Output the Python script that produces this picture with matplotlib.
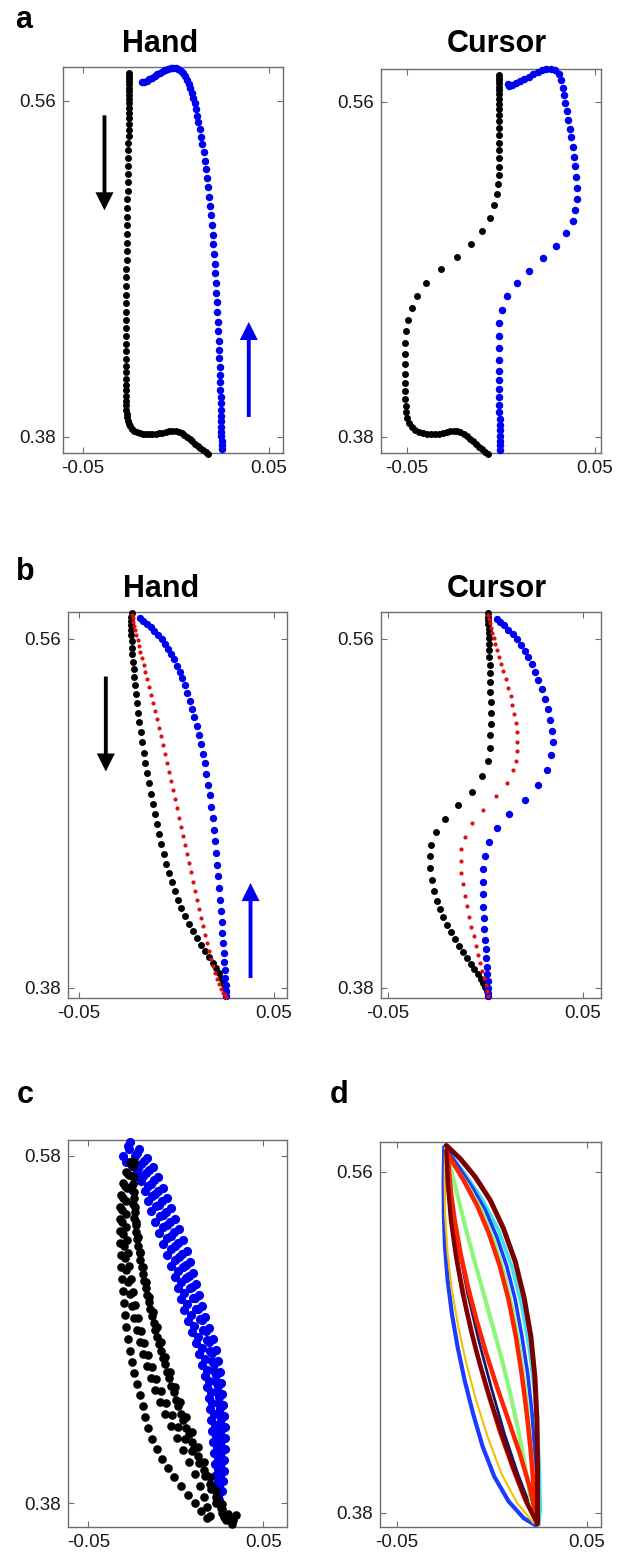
import numpy as np
import matplotlib
matplotlib.use("Agg")
import matplotlib.pyplot as plt

plt.rcParams['font.family'] = ['Liberation Sans', 'DejaVu Sans']

# ------------------------------------------------------------------ data
XTICKS = [-0.05, 0.05]
XTICK_LABELS = ['-0.05', '0.05']
YTICKS_AB = [0.38, 0.56]
YTICK_LABELS_AB = ['0.38', '0.56']
YTICKS_C = [0.38, 0.58]
YTICK_LABELS_C = ['0.38', '0.58']

PANEL_LETTERS = ['a', 'b', 'c', 'd']
TITLES = ['Hand', 'Cursor']

# panel a, hand: outward (black, downward) and return (blue, upward) movement
A_HAND_BLACK = [
    (-0.0251, 0.5750), (-0.0251, 0.5736), (-0.0251, 0.5721), (-0.0251, 0.5705), (-0.0251, 0.5689),
    (-0.0251, 0.5671), (-0.0251, 0.5654), (-0.0251, 0.5634), (-0.0251, 0.5613), (-0.0251, 0.5589),
    (-0.0251, 0.5564), (-0.0251, 0.5538), (-0.0253, 0.5509), (-0.0253, 0.5479), (-0.0254, 0.5446),
    (-0.0254, 0.5413), (-0.0256, 0.5375), (-0.0256, 0.5336), (-0.0258, 0.5295), (-0.0258, 0.5252),
    (-0.0260, 0.5209), (-0.0260, 0.5164), (-0.0260, 0.5120), (-0.0262, 0.5073), (-0.0262, 0.5027),
    (-0.0262, 0.4980), (-0.0263, 0.4934), (-0.0263, 0.4888), (-0.0265, 0.4841), (-0.0265, 0.4795),
    (-0.0265, 0.4748), (-0.0267, 0.4702), (-0.0267, 0.4655), (-0.0267, 0.4609), (-0.0269, 0.4563),
    (-0.0269, 0.4516), (-0.0269, 0.4471), (-0.0271, 0.4427), (-0.0271, 0.4384), (-0.0271, 0.4341),
    (-0.0271, 0.4300), (-0.0271, 0.4259), (-0.0271, 0.4220), (-0.0271, 0.4182), (-0.0271, 0.4146),
    (-0.0271, 0.4113), (-0.0271, 0.4080), (-0.0271, 0.4050), (-0.0271, 0.4021), (-0.0271, 0.3995),
    (-0.0269, 0.3970), (-0.0267, 0.3946), (-0.0265, 0.3925), (-0.0262, 0.3905), (-0.0258, 0.3888),
    (-0.0253, 0.3871), (-0.0246, 0.3857), (-0.0237, 0.3845), (-0.0224, 0.3834), (-0.0210, 0.3827),
    (-0.0195, 0.3821), (-0.0179, 0.3818), (-0.0163, 0.3816), (-0.0145, 0.3814), (-0.0127, 0.3814),
    (-0.0109, 0.3816), (-0.0091, 0.3820), (-0.0073, 0.3823), (-0.0056, 0.3827), (-0.0038, 0.3830),
    (-0.0020, 0.3832), (-0.0002, 0.3832), (0.0014, 0.3829), (0.0030, 0.3821), (0.0045, 0.3812),
    (0.0059, 0.3802), (0.0073, 0.3789), (0.0088, 0.3777), (0.0102, 0.3764), (0.0116, 0.3752),
    (0.0131, 0.3739), (0.0145, 0.3729), (0.0159, 0.3720), (0.0174, 0.3711)]

A_HAND_BLUE = [
    (0.0246, 0.3738), (0.0246, 0.3759), (0.0246, 0.3780), (0.0244, 0.3804), (0.0244, 0.3829),
    (0.0244, 0.3855), (0.0242, 0.3884), (0.0242, 0.3914), (0.0242, 0.3946), (0.0240, 0.3980),
    (0.0240, 0.4016), (0.0238, 0.4054), (0.0238, 0.4093), (0.0237, 0.4134), (0.0235, 0.4177),
    (0.0233, 0.4221), (0.0231, 0.4268), (0.0229, 0.4316), (0.0228, 0.4366), (0.0224, 0.4418),
    (0.0222, 0.4470), (0.0219, 0.4521), (0.0217, 0.4573), (0.0213, 0.4625), (0.0211, 0.4677),
    (0.0208, 0.4729), (0.0204, 0.4780), (0.0201, 0.4832), (0.0197, 0.4884), (0.0194, 0.4936),
    (0.0188, 0.4988), (0.0185, 0.5038), (0.0179, 0.5088), (0.0174, 0.5138), (0.0168, 0.5186),
    (0.0161, 0.5234), (0.0156, 0.5280), (0.0149, 0.5325), (0.0142, 0.5368), (0.0134, 0.5409),
    (0.0127, 0.5448), (0.0120, 0.5486), (0.0113, 0.5521), (0.0106, 0.5555), (0.0100, 0.5588),
    (0.0093, 0.5618), (0.0086, 0.5645), (0.0077, 0.5670), (0.0068, 0.5693), (0.0059, 0.5714),
    (0.0048, 0.5732), (0.0038, 0.5748), (0.0025, 0.5761), (0.0013, 0.5770), (0.0000, 0.5775),
    (-0.0014, 0.5777), (-0.0029, 0.5775), (-0.0043, 0.5771), (-0.0057, 0.5766), (-0.0072, 0.5759),
    (-0.0086, 0.5752), (-0.0100, 0.5743), (-0.0115, 0.5734), (-0.0129, 0.5725), (-0.0143, 0.5716),
    (-0.0158, 0.5709), (-0.0172, 0.5704), (-0.0185, 0.5702)]

# panel a, cursor
A_CURSOR_BLACK = [
    (-0.0010, 0.5743), (-0.0010, 0.5730), (-0.0010, 0.5716), (-0.0008, 0.5700), (-0.0008, 0.5682),
    (-0.0008, 0.5663), (-0.0008, 0.5641), (-0.0008, 0.5616), (-0.0008, 0.5589), (-0.0008, 0.5561),
    (-0.0008, 0.5528), (-0.0008, 0.5495), (-0.0008, 0.5459), (-0.0008, 0.5421), (-0.0008, 0.5382),
    (-0.0008, 0.5341), (-0.0010, 0.5298), (-0.0010, 0.5253), (-0.0012, 0.5207), (-0.0015, 0.5158),
    (-0.0020, 0.5108), (-0.0035, 0.5046), (-0.0060, 0.4978), (-0.0099, 0.4908), (-0.0157, 0.4837),
    (-0.0234, 0.4765), (-0.0319, 0.4701), (-0.0397, 0.4629), (-0.0445, 0.4560), (-0.0473, 0.4492),
    (-0.0495, 0.4429), (-0.0505, 0.4367), (-0.0509, 0.4304), (-0.0511, 0.4245), (-0.0511, 0.4190),
    (-0.0511, 0.4138), (-0.0511, 0.4089), (-0.0511, 0.4045), (-0.0509, 0.4004), (-0.0507, 0.3966),
    (-0.0504, 0.3932), (-0.0498, 0.3902), (-0.0489, 0.3875), (-0.0475, 0.3853), (-0.0457, 0.3837),
    (-0.0438, 0.3827), (-0.0417, 0.3821), (-0.0395, 0.3818), (-0.0374, 0.3816), (-0.0353, 0.3816),
    (-0.0331, 0.3818), (-0.0310, 0.3821), (-0.0289, 0.3827), (-0.0269, 0.3832), (-0.0251, 0.3834),
    (-0.0234, 0.3832), (-0.0216, 0.3827), (-0.0198, 0.3818), (-0.0180, 0.3805), (-0.0164, 0.3791),
    (-0.0148, 0.3777), (-0.0132, 0.3762), (-0.0116, 0.3748), (-0.0100, 0.3734), (-0.0084, 0.3721),
    (-0.0068, 0.3710)]

A_CURSOR_BLUE = [
    (-0.0006, 0.3732), (-0.0006, 0.3755), (-0.0006, 0.3780), (-0.0006, 0.3807), (-0.0006, 0.3836),
    (-0.0006, 0.3866), (-0.0006, 0.3898), (-0.0008, 0.3934), (-0.0008, 0.3973), (-0.0008, 0.4014),
    (-0.0010, 0.4057), (-0.0010, 0.4104), (-0.0012, 0.4156), (-0.0012, 0.4215), (-0.0012, 0.4277),
    (-0.0012, 0.4343), (-0.0010, 0.4415), (0.0003, 0.4483), (0.0033, 0.4558), (0.0083, 0.4626),
    (0.0147, 0.4694), (0.0221, 0.4760), (0.0292, 0.4826), (0.0345, 0.4894), (0.0381, 0.4960),
    (0.0395, 0.5019), (0.0402, 0.5076), (0.0402, 0.5135), (0.0401, 0.5198), (0.0395, 0.5255),
    (0.0388, 0.5305), (0.0381, 0.5359), (0.0374, 0.5409), (0.0367, 0.5457), (0.0358, 0.5505),
    (0.0349, 0.5552), (0.0342, 0.5595), (0.0337, 0.5636), (0.0329, 0.5677), (0.0321, 0.5716),
    (0.0306, 0.5748), (0.0289, 0.5770), (0.0264, 0.5779), (0.0242, 0.5779), (0.0219, 0.5772),
    (0.0196, 0.5761), (0.0171, 0.5748), (0.0148, 0.5736), (0.0125, 0.5723), (0.0102, 0.5711),
    (0.0079, 0.5700), (0.0060, 0.5691), (0.0045, 0.5688), (0.0040, 0.5698)]

# panel b, hand: outward (black), return (blue), mean (red)
B_HAND_BLACK = [
    (-0.0230, 0.5732), (-0.0232, 0.5715), (-0.0233, 0.5694), (-0.0233, 0.5672), (-0.0233, 0.5646),
    (-0.0232, 0.5619), (-0.0230, 0.5588), (-0.0228, 0.5555), (-0.0226, 0.5521), (-0.0223, 0.5483),
    (-0.0220, 0.5444), (-0.0216, 0.5402), (-0.0213, 0.5360), (-0.0208, 0.5315), (-0.0203, 0.5268),
    (-0.0197, 0.5220), (-0.0191, 0.5171), (-0.0184, 0.5119), (-0.0177, 0.5068), (-0.0168, 0.5014),
    (-0.0160, 0.4961), (-0.0151, 0.4908), (-0.0141, 0.4855), (-0.0132, 0.4801), (-0.0122, 0.4748),
    (-0.0112, 0.4695), (-0.0102, 0.4643), (-0.0090, 0.4592), (-0.0078, 0.4540), (-0.0066, 0.4490),
    (-0.0052, 0.4441), (-0.0038, 0.4393), (-0.0023, 0.4344), (-0.0008, 0.4298), (0.0009, 0.4253),
    (0.0026, 0.4210), (0.0045, 0.4169), (0.0064, 0.4130), (0.0085, 0.4092), (0.0105, 0.4056),
    (0.0126, 0.4022), (0.0146, 0.3989), (0.0167, 0.3958), (0.0185, 0.3929), (0.0203, 0.3901),
    (0.0218, 0.3876), (0.0230, 0.3851), (0.0240, 0.3827), (0.0247, 0.3805), (0.0252, 0.3783),
    (0.0254, 0.3760)]

B_HAND_BLUE = [
    (-0.0187, 0.5706), (-0.0170, 0.5694), (-0.0151, 0.5679), (-0.0132, 0.5662), (-0.0114, 0.5643),
    (-0.0095, 0.5622), (-0.0076, 0.5600), (-0.0059, 0.5576), (-0.0042, 0.5550), (-0.0026, 0.5523),
    (-0.0011, 0.5494), (0.0003, 0.5463), (0.0016, 0.5430), (0.0030, 0.5396), (0.0044, 0.5360),
    (0.0056, 0.5322), (0.0068, 0.5282), (0.0079, 0.5241), (0.0091, 0.5198), (0.0103, 0.5153),
    (0.0114, 0.5107), (0.0124, 0.5059), (0.0134, 0.5009), (0.0144, 0.4958), (0.0153, 0.4904),
    (0.0162, 0.4849), (0.0170, 0.4793), (0.0179, 0.4734), (0.0185, 0.4676), (0.0192, 0.4616),
    (0.0199, 0.4556), (0.0204, 0.4496), (0.0209, 0.4435), (0.0215, 0.4375), (0.0220, 0.4315),
    (0.0225, 0.4255), (0.0228, 0.4197), (0.0232, 0.4140), (0.0235, 0.4085), (0.0238, 0.4032),
    (0.0242, 0.3982), (0.0245, 0.3936), (0.0249, 0.3893), (0.0250, 0.3853), (0.0252, 0.3817),
    (0.0254, 0.3786), (0.0254, 0.3760)]

B_HAND_RED = [
    (-0.0228, 0.5724), (-0.0225, 0.5706), (-0.0221, 0.5688), (-0.0216, 0.5667), (-0.0211, 0.5645),
    (-0.0206, 0.5621), (-0.0199, 0.5595), (-0.0192, 0.5566), (-0.0185, 0.5535), (-0.0177, 0.5502),
    (-0.0168, 0.5468), (-0.0160, 0.5432), (-0.0151, 0.5394), (-0.0141, 0.5354), (-0.0132, 0.5313),
    (-0.0122, 0.5272), (-0.0112, 0.5229), (-0.0102, 0.5186), (-0.0091, 0.5141), (-0.0081, 0.5097),
    (-0.0071, 0.5052), (-0.0061, 0.5006), (-0.0050, 0.4959), (-0.0040, 0.4913), (-0.0030, 0.4867),
    (-0.0020, 0.4820), (-0.0009, 0.4774), (0.0001, 0.4726), (0.0011, 0.4679), (0.0021, 0.4631),
    (0.0032, 0.4585), (0.0042, 0.4537), (0.0052, 0.4490), (0.0062, 0.4442), (0.0073, 0.4396),
    (0.0083, 0.4348), (0.0093, 0.4301), (0.0103, 0.4255), (0.0114, 0.4209), (0.0124, 0.4162),
    (0.0134, 0.4118), (0.0144, 0.4073), (0.0155, 0.4030), (0.0165, 0.3989), (0.0175, 0.3949),
    (0.0185, 0.3912), (0.0196, 0.3877), (0.0206, 0.3846), (0.0216, 0.3819), (0.0226, 0.3795),
    (0.0237, 0.3776), (0.0247, 0.3762), (0.0254, 0.3754)]

# panel b, cursor
B_CURSOR_BLACK = [
    (0.0015, 0.5732), (0.0015, 0.5715), (0.0015, 0.5696), (0.0015, 0.5676), (0.0016, 0.5653),
    (0.0016, 0.5629), (0.0018, 0.5603), (0.0018, 0.5574), (0.0020, 0.5542), (0.0020, 0.5506),
    (0.0021, 0.5466), (0.0023, 0.5423), (0.0025, 0.5377), (0.0025, 0.5327), (0.0027, 0.5274),
    (0.0027, 0.5217), (0.0027, 0.5160), (0.0025, 0.5102), (0.0023, 0.5040), (0.0013, 0.4973),
    (-0.0018, 0.4891), (-0.0071, 0.4813), (-0.0142, 0.4741), (-0.0210, 0.4673), (-0.0256, 0.4604),
    (-0.0279, 0.4539), (-0.0286, 0.4478), (-0.0284, 0.4418), (-0.0277, 0.4358), (-0.0265, 0.4301),
    (-0.0250, 0.4250), (-0.0234, 0.4207), (-0.0217, 0.4166), (-0.0198, 0.4126), (-0.0179, 0.4089),
    (-0.0159, 0.4052), (-0.0138, 0.4018), (-0.0118, 0.3985), (-0.0097, 0.3955), (-0.0076, 0.3925),
    (-0.0057, 0.3898), (-0.0040, 0.3872), (-0.0025, 0.3848), (-0.0011, 0.3826), (-0.0001, 0.3805),
    (0.0008, 0.3785), (0.0015, 0.3760)]

B_CURSOR_BLUE = [
    (0.0057, 0.5703), (0.0075, 0.5689), (0.0095, 0.5670), (0.0117, 0.5648), (0.0140, 0.5624),
    (0.0160, 0.5598), (0.0181, 0.5569), (0.0200, 0.5538), (0.0219, 0.5506), (0.0236, 0.5469),
    (0.0253, 0.5430), (0.0270, 0.5387), (0.0287, 0.5341), (0.0304, 0.5291), (0.0320, 0.5238),
    (0.0332, 0.5183), (0.0340, 0.5126), (0.0344, 0.5066), (0.0337, 0.4999), (0.0315, 0.4925),
    (0.0270, 0.4848), (0.0203, 0.4770), (0.0121, 0.4697), (0.0061, 0.4624), (0.0020, 0.4551),
    (-0.0003, 0.4482), (-0.0013, 0.4415), (-0.0015, 0.4348), (-0.0015, 0.4283), (-0.0013, 0.4219),
    (-0.0009, 0.4159), (-0.0006, 0.4102), (-0.0003, 0.4049), (0.0001, 0.3999), (0.0004, 0.3953),
    (0.0008, 0.3910), (0.0009, 0.3870), (0.0011, 0.3834), (0.0013, 0.3802), (0.0015, 0.3774),
    (0.0015, 0.3757)]

B_CURSOR_RED = [
    (0.0015, 0.5724), (0.0018, 0.5703), (0.0023, 0.5681), (0.0028, 0.5657), (0.0035, 0.5631),
    (0.0042, 0.5603), (0.0051, 0.5574), (0.0059, 0.5543), (0.0069, 0.5509), (0.0080, 0.5473),
    (0.0092, 0.5433), (0.0104, 0.5392), (0.0116, 0.5349), (0.0128, 0.5305), (0.0138, 0.5260),
    (0.0147, 0.5214), (0.0154, 0.5167), (0.0159, 0.5119), (0.0160, 0.5071), (0.0160, 0.5023),
    (0.0155, 0.4973), (0.0143, 0.4922), (0.0112, 0.4856), (0.0054, 0.4788), (-0.0011, 0.4719),
    (-0.0069, 0.4650), (-0.0107, 0.4581), (-0.0124, 0.4516), (-0.0128, 0.4453), (-0.0124, 0.4393),
    (-0.0118, 0.4334), (-0.0107, 0.4276), (-0.0097, 0.4221), (-0.0085, 0.4168), (-0.0073, 0.4116),
    (-0.0061, 0.4066), (-0.0049, 0.4018), (-0.0037, 0.3972), (-0.0027, 0.3929), (-0.0016, 0.3888),
    (-0.0008, 0.3850), (0.0001, 0.3815), (0.0008, 0.3786), (0.0015, 0.3760)]

# panel c: several trials, outward (black) and return (blue)
C_BLACK_1 = [
    (-0.0262, 0.5766), (-0.0285, 0.5708), (-0.0302, 0.5645), (-0.0313, 0.5575), (-0.0319, 0.5506),
    (-0.0319, 0.5437), (-0.0319, 0.5368), (-0.0319, 0.5299), (-0.0313, 0.5230), (-0.0313, 0.5161),
    (-0.0307, 0.5092), (-0.0302, 0.5023), (-0.0296, 0.4954), (-0.0290, 0.4885), (-0.0285, 0.4815),
    (-0.0273, 0.4746), (-0.0262, 0.4677), (-0.0250, 0.4614), (-0.0239, 0.4551), (-0.0222, 0.4487),
    (-0.0205, 0.4424), (-0.0187, 0.4361), (-0.0176, 0.4297), (-0.0159, 0.4234), (-0.0136, 0.4170),
    (-0.0107, 0.4113), (-0.0079, 0.4055), (-0.0045, 0.4003), (-0.0010, 0.3952), (0.0030, 0.3900),
    (0.0070, 0.3848), (0.0110, 0.3802), (0.0144, 0.3756), (0.0178, 0.3716)]
C_BLACK_2 = [
    (-0.0250, 0.5766), (-0.0267, 0.5691), (-0.0279, 0.5616), (-0.0285, 0.5541), (-0.0285, 0.5466),
    (-0.0285, 0.5391), (-0.0279, 0.5316), (-0.0273, 0.5242), (-0.0267, 0.5167), (-0.0256, 0.5092),
    (-0.0245, 0.5017), (-0.0233, 0.4942), (-0.0216, 0.4867), (-0.0199, 0.4792), (-0.0182, 0.4723),
    (-0.0159, 0.4654), (-0.0136, 0.4585), (-0.0113, 0.4516), (-0.0085, 0.4447), (-0.0056, 0.4378),
    (-0.0022, 0.4309), (0.0013, 0.4240), (0.0053, 0.4170), (0.0093, 0.4101), (0.0133, 0.4032),
    (0.0173, 0.3963), (0.0207, 0.3894), (0.0235, 0.3831), (0.0258, 0.3773), (0.0275, 0.3721)]
C_BLACK_3 = [
    (-0.0245, 0.5766), (-0.0250, 0.5685), (-0.0250, 0.5604), (-0.0245, 0.5524), (-0.0239, 0.5443),
    (-0.0227, 0.5362), (-0.0216, 0.5282), (-0.0205, 0.5201), (-0.0187, 0.5121), (-0.0170, 0.5040),
    (-0.0153, 0.4959), (-0.0136, 0.4879), (-0.0119, 0.4798), (-0.0096, 0.4718), (-0.0073, 0.4637),
    (-0.0050, 0.4556), (-0.0027, 0.4476), (0.0001, 0.4395), (0.0030, 0.4315), (0.0058, 0.4234),
    (0.0093, 0.4153), (0.0127, 0.4073), (0.0161, 0.3992), (0.0195, 0.3911), (0.0230, 0.3836),
    (0.0264, 0.3767), (0.0298, 0.3710), (0.0321, 0.3681)]
C_BLACK_4 = [
    (-0.0239, 0.5766), (-0.0239, 0.5679), (-0.0239, 0.5593), (-0.0233, 0.5506), (-0.0227, 0.5420),
    (-0.0216, 0.5334), (-0.0205, 0.5247), (-0.0187, 0.5161), (-0.0170, 0.5075), (-0.0153, 0.4988),
    (-0.0130, 0.4902), (-0.0107, 0.4815), (-0.0085, 0.4729), (-0.0062, 0.4643), (-0.0033, 0.4556),
    (-0.0005, 0.4470), (0.0024, 0.4384), (0.0058, 0.4297), (0.0093, 0.4211), (0.0127, 0.4124),
    (0.0161, 0.4038), (0.0195, 0.3952), (0.0230, 0.3871), (0.0264, 0.3796), (0.0298, 0.3739),
    (0.0327, 0.3704), (0.0344, 0.3733)]
C_BLACK_5 = [
    (-0.0256, 0.5766), (-0.0273, 0.5696), (-0.0290, 0.5627), (-0.0302, 0.5558), (-0.0307, 0.5489),
    (-0.0307, 0.5420), (-0.0302, 0.5351), (-0.0296, 0.5282), (-0.0290, 0.5213), (-0.0285, 0.5144),
    (-0.0273, 0.5075), (-0.0262, 0.5005), (-0.0250, 0.4936), (-0.0239, 0.4867), (-0.0222, 0.4798),
    (-0.0205, 0.4729), (-0.0187, 0.4660), (-0.0165, 0.4591), (-0.0142, 0.4522), (-0.0119, 0.4453),
    (-0.0090, 0.4384), (-0.0062, 0.4315), (-0.0027, 0.4245), (0.0007, 0.4176), (0.0041, 0.4107),
    (0.0075, 0.4038), (0.0110, 0.3969), (0.0138, 0.3900), (0.0161, 0.3836), (0.0178, 0.3779),
    (0.0195, 0.3727)]
C_BLACK_6 = [
    (-0.0242, 0.5740), (-0.0244, 0.5640), (-0.0241, 0.5560), (-0.0236, 0.5480), (-0.0228, 0.5400),
    (-0.0219, 0.5320), (-0.0207, 0.5240), (-0.0194, 0.5160), (-0.0180, 0.5080), (-0.0164, 0.5000),
    (-0.0146, 0.4920), (-0.0127, 0.4840), (-0.0107, 0.4760), (-0.0086, 0.4680), (-0.0063, 0.4600),
    (-0.0039, 0.4520), (-0.0013, 0.4440), (0.0014, 0.4360), (0.0043, 0.4280), (0.0073, 0.4200),
    (0.0104, 0.4120), (0.0136, 0.4040), (0.0168, 0.3960), (0.0200, 0.3880), (0.0232, 0.3805),
    (0.0262, 0.3745), (0.0287, 0.3705)]
C_BLUE_1 = [
    (-0.0262, 0.5881), (-0.0210, 0.5840), (-0.0165, 0.5789), (-0.0130, 0.5737), (-0.0102, 0.5679),
    (-0.0073, 0.5616), (-0.0050, 0.5558), (-0.0027, 0.5501), (-0.0005, 0.5437), (0.0018, 0.5380),
    (0.0041, 0.5316), (0.0064, 0.5253), (0.0081, 0.5190), (0.0098, 0.5126), (0.0115, 0.5063),
    (0.0133, 0.5000), (0.0150, 0.4936), (0.0167, 0.4873), (0.0190, 0.4810), (0.0213, 0.4746),
    (0.0230, 0.4683), (0.0241, 0.4620), (0.0253, 0.4556), (0.0258, 0.4493), (0.0264, 0.4430),
    (0.0270, 0.4366), (0.0275, 0.4303), (0.0281, 0.4240), (0.0281, 0.4176), (0.0281, 0.4113),
    (0.0275, 0.4050), (0.0275, 0.3986), (0.0270, 0.3929), (0.0264, 0.3871), (0.0247, 0.3819)]
C_BLUE_2 = [
    (-0.0273, 0.5858), (-0.0222, 0.5817), (-0.0182, 0.5771), (-0.0153, 0.5719), (-0.0125, 0.5662),
    (-0.0102, 0.5599), (-0.0079, 0.5541), (-0.0056, 0.5478), (-0.0033, 0.5420), (-0.0010, 0.5362),
    (0.0013, 0.5299), (0.0035, 0.5236), (0.0058, 0.5172), (0.0075, 0.5109), (0.0093, 0.5046),
    (0.0110, 0.4982), (0.0127, 0.4919), (0.0150, 0.4856), (0.0173, 0.4792), (0.0190, 0.4729),
    (0.0207, 0.4666), (0.0218, 0.4602), (0.0230, 0.4539), (0.0241, 0.4476), (0.0247, 0.4412),
    (0.0253, 0.4349), (0.0258, 0.4286), (0.0258, 0.4222), (0.0258, 0.4159), (0.0258, 0.4096),
    (0.0258, 0.4032), (0.0253, 0.3969), (0.0247, 0.3911), (0.0241, 0.3860), (0.0235, 0.3819)]
C_BLUE_3 = [
    (-0.0302, 0.5800), (-0.0256, 0.5766), (-0.0216, 0.5731), (-0.0187, 0.5685), (-0.0159, 0.5627),
    (-0.0136, 0.5570), (-0.0113, 0.5512), (-0.0090, 0.5455), (-0.0073, 0.5391), (-0.0050, 0.5328),
    (-0.0027, 0.5265), (-0.0005, 0.5201), (0.0013, 0.5138), (0.0030, 0.5075), (0.0047, 0.5011),
    (0.0064, 0.4948), (0.0087, 0.4885), (0.0104, 0.4821), (0.0127, 0.4758), (0.0150, 0.4695),
    (0.0167, 0.4631), (0.0178, 0.4568), (0.0190, 0.4505), (0.0201, 0.4441), (0.0207, 0.4378),
    (0.0218, 0.4315), (0.0224, 0.4251), (0.0230, 0.4188), (0.0235, 0.4124), (0.0241, 0.4061),
    (0.0241, 0.3998), (0.0241, 0.3934), (0.0241, 0.3877), (0.0235, 0.3819)]
C_BLUE_4 = [
    (-0.0285, 0.5766), (-0.0250, 0.5742), (-0.0222, 0.5708), (-0.0199, 0.5656), (-0.0176, 0.5599),
    (-0.0159, 0.5541), (-0.0142, 0.5483), (-0.0119, 0.5420), (-0.0096, 0.5357), (-0.0073, 0.5293),
    (-0.0050, 0.5230), (-0.0027, 0.5167), (-0.0005, 0.5103), (0.0013, 0.5040), (0.0030, 0.4977),
    (0.0047, 0.4913), (0.0070, 0.4850), (0.0093, 0.4787), (0.0115, 0.4723), (0.0133, 0.4660),
    (0.0150, 0.4597), (0.0167, 0.4533), (0.0178, 0.4470), (0.0190, 0.4407), (0.0195, 0.4343),
    (0.0201, 0.4280), (0.0207, 0.4216), (0.0213, 0.4153), (0.0218, 0.4090), (0.0224, 0.4026),
    (0.0230, 0.3963), (0.0230, 0.3906), (0.0235, 0.3854), (0.0235, 0.3819)]
C_BLUE_5 = [
    (-0.0268, 0.5840), (-0.0236, 0.5800), (-0.0200, 0.5755), (-0.0170, 0.5700), (-0.0142, 0.5640),
    (-0.0117, 0.5580), (-0.0094, 0.5520), (-0.0071, 0.5460), (-0.0048, 0.5400), (-0.0025, 0.5340),
    (-0.0003, 0.5280), (0.0019, 0.5220), (0.0040, 0.5160), (0.0060, 0.5100), (0.0079, 0.5040),
    (0.0097, 0.4980), (0.0116, 0.4920), (0.0136, 0.4860), (0.0157, 0.4800), (0.0176, 0.4740),
    (0.0193, 0.4680), (0.0207, 0.4620), (0.0219, 0.4560), (0.0229, 0.4500), (0.0237, 0.4440),
    (0.0244, 0.4380), (0.0249, 0.4320), (0.0252, 0.4260), (0.0254, 0.4200), (0.0254, 0.4140),
    (0.0253, 0.4080), (0.0252, 0.4020), (0.0250, 0.3960), (0.0246, 0.3900), (0.0241, 0.3845)]

# panel d: mean paths of successive blocks (coloured lines)
D_BLUE_LEFT = [(-0.0251, 0.5732), (-0.0254, 0.5556), (-0.0253, 0.5380), (-0.0247, 0.5205), (-0.0233, 0.5029),
               (-0.0211, 0.4854), (-0.0181, 0.4678), (-0.0144, 0.4502), (-0.0100, 0.4327), (-0.0049, 0.4151),
               (0.0012, 0.3993), (0.0088, 0.3861), (0.0167, 0.3773), (0.0233, 0.3733)]
D_BLUE_RIGHT = [(-0.0237, 0.5714), (-0.0175, 0.5626), (-0.0105, 0.5521), (-0.0035, 0.5398), (0.0026, 0.5257),
                (0.0079, 0.5099), (0.0123, 0.4924), (0.0158, 0.4731), (0.0188, 0.4537), (0.0211, 0.4327),
                (0.0225, 0.4116), (0.0233, 0.3923), (0.0237, 0.3738)]
D_CYAN_RIGHT = [(-0.0240, 0.5723), (-0.0149, 0.5600), (-0.0053, 0.5459), (0.0035, 0.5293), (0.0105, 0.5099),
                (0.0158, 0.4889), (0.0198, 0.4660), (0.0225, 0.4432), (0.0242, 0.4204), (0.0251, 0.3993),
                (0.0254, 0.3817), (0.0247, 0.3738)]
D_DARKRED_RIGHT = [(-0.0240, 0.5740), (-0.0167, 0.5670), (-0.0088, 0.5574), (-0.0009, 0.5451), (0.0061, 0.5301),
                   (0.0123, 0.5126), (0.0170, 0.4933), (0.0205, 0.4731), (0.0226, 0.4520), (0.0237, 0.4292),
                   (0.0240, 0.4063), (0.0240, 0.3870), (0.0240, 0.3744)]
D_DARKRED_LEFT = [(-0.0240, 0.5714), (-0.0232, 0.5538), (-0.0216, 0.5345), (-0.0189, 0.5152), (-0.0154, 0.4959),
                  (-0.0111, 0.4766), (-0.0060, 0.4573), (-0.0002, 0.4379), (0.0061, 0.4186), (0.0123, 0.4010),
                  (0.0184, 0.3853), (0.0240, 0.3744)]
D_RED_LEFT_1 = [(-0.0233, 0.5697), (-0.0219, 0.5521), (-0.0196, 0.5345), (-0.0165, 0.5170), (-0.0126, 0.4994),
                (-0.0081, 0.4818), (-0.0030, 0.4643), (0.0026, 0.4467), (0.0086, 0.4292), (0.0146, 0.4116),
                (0.0198, 0.3940), (0.0233, 0.3782)]
D_RED_RIGHT_1 = [(-0.0223, 0.5679), (-0.0149, 0.5556), (-0.0079, 0.5424), (-0.0016, 0.5275), (0.0040, 0.5108),
                 (0.0088, 0.4924), (0.0126, 0.4731), (0.0156, 0.4537), (0.0181, 0.4344), (0.0202, 0.4151),
                 (0.0218, 0.3958), (0.0230, 0.3773)]
D_RED_LEFT_2 = [(-0.0237, 0.5705), (-0.0226, 0.5503), (-0.0205, 0.5293), (-0.0174, 0.5082), (-0.0133, 0.4871),
                (-0.0084, 0.4660), (-0.0026, 0.4450), (0.0039, 0.4239), (0.0107, 0.4046), (0.0175, 0.3870),
                (0.0233, 0.3756)]
D_GREEN_CENTER = [(-0.0223, 0.5644), (-0.0184, 0.5486), (-0.0140, 0.5310), (-0.0093, 0.5135), (-0.0044, 0.4959),
                  (0.0005, 0.4783), (0.0053, 0.4608), (0.0096, 0.4432), (0.0135, 0.4256), (0.0168, 0.4081),
                  (0.0196, 0.3923), (0.0223, 0.3765)]
D_GREEN_RIGHT = [(-0.0216, 0.5661), (-0.0132, 0.5538), (-0.0053, 0.5398), (0.0014, 0.5231), (0.0070, 0.5047),
                 (0.0114, 0.4854), (0.0149, 0.4652), (0.0177, 0.4450), (0.0198, 0.4239), (0.0216, 0.4028),
                 (0.0228, 0.3835)]
D_YELLOW_LEFT = [(-0.0247, 0.5740), (-0.0249, 0.5556), (-0.0246, 0.5363), (-0.0233, 0.5170), (-0.0211, 0.4977),
                 (-0.0177, 0.4783), (-0.0135, 0.4590), (-0.0084, 0.4397), (-0.0023, 0.4204), (0.0049, 0.4010),
                 (0.0132, 0.3853), (0.0219, 0.3747)]
D_YELLOW_RIGHT = [(-0.0237, 0.5735), (-0.0140, 0.5635), (-0.0044, 0.5503), (0.0044, 0.5337), (0.0114, 0.5152),
                  (0.0167, 0.4941), (0.0202, 0.4713), (0.0223, 0.4467), (0.0233, 0.4221), (0.0239, 0.3975),
                  (0.0240, 0.3756)]
D_NAVY_LEFT = [(-0.0228, 0.5697), (-0.0211, 0.5451), (-0.0175, 0.5205), (-0.0128, 0.4959), (-0.0070, 0.4713),
               (-0.0005, 0.4467), (0.0065, 0.4221), (0.0135, 0.4010), (0.0202, 0.3835), (0.0237, 0.3747)]

# arrows (direction of movement): x, tail y, tip y
A_ARROW_DOWN = (-0.0385, 0.5523, 0.5014)
A_ARROW_UP = (0.0391, 0.3907, 0.4416)
B_ARROW_DOWN = (-0.0362, 0.5406, 0.4916)
B_ARROW_UP = (0.0380, 0.3851, 0.4341)

# ------------------------------------------------------------------ layout / style
W, H = 625, 1552
BLACK = '#000000'
BLUE = '#0000f0'
RED = '#e01010'
GRAY = '#6e6e6e'

fig = plt.figure(figsize=(W / 100, H / 100), dpi=100)
fig.patch.set_facecolor('white')


def px_axes(l, t, r, b):
    return fig.add_axes([l / W, 1 - b / H, (r - l) / W, (b - t) / H])


def style(ax, xlim, ylim, yticks, ylabels):
    ax.set_xlim(*xlim)
    ax.set_ylim(*ylim)
    ax.set_xticks(XTICKS)
    ax.set_xticklabels(XTICK_LABELS)
    ax.set_yticks(yticks)
    ax.set_yticklabels(ylabels)
    ax.tick_params(direction='in', top=True, right=True, length=4, width=0.8,
                   color=GRAY, labelsize=13.5, labelcolor='#1a1a1a', pad=5)
    for s in ax.spines.values():
        s.set_color(GRAY)
        s.set_linewidth(1.0)


def dots(ax, pts, color, ms, z=3):
    p = np.asarray(pts)
    ax.plot(p[:, 0], p[:, 1], 'o', color=color, ms=ms, mew=0, clip_on=False, zorder=z)


def arrow(ax, spec, color):
    x, y0, y1 = spec
    ax.annotate('', xy=(x, y1), xytext=(x, y0),
                arrowprops=dict(facecolor=color, edgecolor='none', width=2.8,
                                headwidth=13, headlength=13, shrink=0))


def text_px(x, y, s, ha='center'):
    fig.text(x / W, 1 - y / H, s, ha=ha, va='baseline', fontsize=22, fontweight='bold')


# panel a
ax = px_axes(63, 67, 283, 453)
style(ax, (-0.0608, 0.0575), (0.3714, 0.5782), YTICKS_AB, YTICK_LABELS_AB)
dots(ax, A_HAND_BLACK, BLACK, 5.0)
dots(ax, A_HAND_BLUE, BLUE, 5.4)
arrow(ax, A_ARROW_DOWN, BLACK)
arrow(ax, A_ARROW_UP, BLUE)

ax = px_axes(381, 69, 601, 453)
style(ax, (-0.0638, 0.0532), (0.3714, 0.5777), YTICKS_AB, YTICK_LABELS_AB)
dots(ax, A_CURSOR_BLACK, BLACK, 5.0)
dots(ax, A_CURSOR_BLUE, BLUE, 5.4)

# panel b
ax = px_axes(68, 612, 287, 998)
style(ax, (-0.0556, 0.0567), (0.3748, 0.5739), YTICKS_AB, YTICK_LABELS_AB)
dots(ax, B_HAND_BLACK, BLACK, 5.0)
dots(ax, B_HAND_BLUE, BLUE, 5.3)
dots(ax, B_HAND_RED, RED, 3.0, z=4)
arrow(ax, B_ARROW_DOWN, BLACK)
arrow(ax, B_ARROW_UP, BLUE)

ax = px_axes(381, 612, 601, 998)
style(ax, (-0.0536, 0.0592), (0.3748, 0.5739), YTICKS_AB, YTICK_LABELS_AB)
dots(ax, B_CURSOR_BLACK, BLACK, 5.0)
dots(ax, B_CURSOR_BLUE, BLUE, 5.3)
dots(ax, B_CURSOR_RED, RED, 3.0, z=4)

# panel c
ax = px_axes(68, 1140, 287, 1527)
style(ax, (-0.0616, 0.0635), (0.3664, 0.5892), YTICKS_C, YTICK_LABELS_C)
for pts in (C_BLUE_1, C_BLUE_5, C_BLUE_2, C_BLUE_3, C_BLUE_4):
    dots(ax, pts, BLUE, 6.6)
for pts in (C_BLACK_1, C_BLACK_5, C_BLACK_2, C_BLACK_6, C_BLACK_3, C_BLACK_4):
    dots(ax, pts, BLACK, 6.2, z=4)

# panel d
ax = px_axes(380, 1142, 601, 1527)
style(ax, (-0.0589, 0.0574), (0.3726, 0.5758), YTICKS_AB, YTICK_LABELS_AB)
D_LINES = [
    (D_BLUE_LEFT, '#1a3cff', 3.0),
    (D_YELLOW_LEFT, '#f2c200', 1.5),
    (D_NAVY_LEFT, '#16166e', 2.0),
    (D_CYAN_RIGHT, '#3fe0f0', 2.6),
    (D_BLUE_RIGHT, '#1a3cff', 2.6),
    (D_GREEN_CENTER, '#8cf57a', 3.0),
    (D_GREEN_RIGHT, '#8cf57a', 2.6),
    (D_YELLOW_RIGHT, '#f2c200', 1.5),
    (D_RED_LEFT_2, '#ff2200', 3.2),
    (D_RED_LEFT_1, '#ff2200', 3.2),
    (D_RED_RIGHT_1, '#ff2200', 3.2),
    (D_DARKRED_LEFT, '#7a0000', 3.0),
    (D_DARKRED_RIGHT, '#7a0000', 3.6),
]
for pts, col, lw in D_LINES:
    p = np.asarray(pts)
    ax.plot(p[:, 0], p[:, 1], '-', color=col, lw=lw, solid_capstyle='round',
            solid_joinstyle='round', clip_on=False)

# titles and panel letters
text_px(15, 28, PANEL_LETTERS[0], ha='left')
text_px(160, 52, TITLES[0])
text_px(497, 52, TITLES[1])
text_px(16, 580, PANEL_LETTERS[1], ha='left')
text_px(161, 597, TITLES[0])
text_px(497, 597, TITLES[1])
text_px(17, 1103, PANEL_LETTERS[2], ha='left')
text_px(330, 1103, PANEL_LETTERS[3], ha='left')

fig.savefig('out.png', dpi=100, facecolor='white')
